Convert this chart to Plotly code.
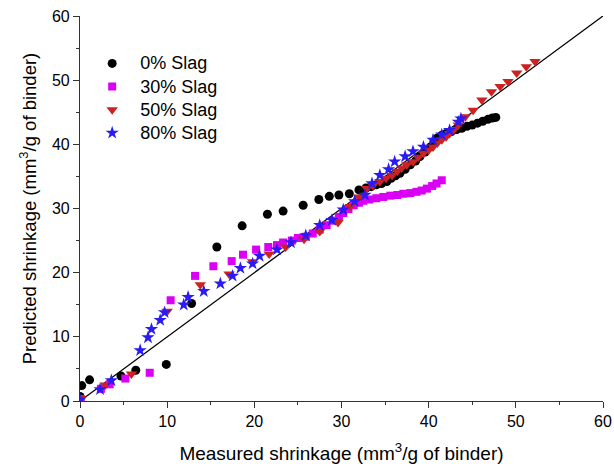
import plotly.graph_objects as go

# 0% Slag
x0 = [0.0, 0.2, 1.1, 4.7, 6.4, 9.9, 12.8, 15.7, 18.6, 21.5, 23.3, 25.6, 27.4, 28.6, 29.7, 30.9,
      32.0, 32.8, 33.4, 34.0, 34.6, 35.2, 35.7, 36.2, 36.7, 37.3, 37.9, 38.5, 39.0, 39.6, 40.2,
      40.6, 41.0, 41.5, 42.0, 42.6, 43.2, 43.8, 44.4, 45.0, 45.6, 46.2, 46.8, 47.3, 47.7]
y0 = [0.7, 2.4, 3.3, 3.9, 4.8, 5.7, 15.2, 24.0, 27.3, 29.1, 29.6, 30.5, 31.4, 31.9, 32.1, 32.3,
      32.9, 33.2, 33.4, 33.7, 33.9, 34.2, 34.7, 35.1, 35.5, 36.1, 36.8, 37.4, 38.1, 38.8, 39.6,
      40.4, 41.0, 41.4, 41.7, 42.0, 42.3, 42.5, 42.8, 43.0, 43.3, 43.6, 43.9, 44.1, 44.2]

# 30% Slag
x30 = [0.1, 2.4, 3.4, 5.2, 8.0, 10.4, 13.2, 15.3, 17.4, 18.7, 20.2, 21.6, 22.6, 23.3, 24.3, 25.0,
       25.9, 26.7, 27.5, 28.3, 29.1, 29.7, 30.2, 30.8, 31.4, 32.0, 32.5, 33.2, 34.0, 34.8, 35.6,
       36.4, 37.1, 37.9, 38.6, 39.2, 39.8, 40.4, 40.9, 41.5]
y30 = [0.3, 1.9, 2.6, 3.5, 4.4, 15.7, 19.5, 21.0, 21.8, 22.8, 23.6, 24.0, 24.3, 24.7, 25.0, 25.4,
       25.6, 26.1, 26.7, 27.4, 28.1, 28.7, 29.3, 29.9, 30.5, 30.9, 31.2, 31.4, 31.6, 31.8, 32.0,
       32.1, 32.3, 32.4, 32.6, 32.8, 33.1, 33.5, 33.9, 34.4]

# 50% Slag
x50 = [0.1, 2.9, 5.9, 10.0, 13.8, 17.1, 19.8, 21.7, 23.6, 25.7, 27.5, 29.6, 31.0, 32.0, 32.9,
       33.6, 34.4, 35.1, 35.8, 36.4, 36.9, 37.5, 38.2, 38.8, 39.4, 40.0, 40.5, 41.0, 41.5, 42.0,
       42.4, 42.9, 43.4, 44.2, 45.1, 46.1, 47.2, 48.2, 49.1, 50.1, 51.2, 52.2]
y50 = [0.4, 2.5, 4.2, 14.0, 18.1, 19.8, 21.7, 22.9, 24.0, 25.2, 26.4, 27.8, 30.3, 31.8, 33.1,
       33.6, 34.2, 34.7, 35.2, 35.8, 36.3, 36.8, 37.3, 38.0, 38.6, 39.1, 39.6, 40.2, 40.7, 41.2,
       41.7, 42.3, 43.0, 44.3, 45.3, 46.9, 48.2, 49.0, 49.8, 51.1, 52.1, 52.9]

# 80% Slag
x80 = [0.0, 2.3, 3.6, 6.9, 7.8, 8.2, 9.2, 9.7, 11.9, 12.4, 14.2, 16.1, 17.5, 18.4, 19.8, 20.6,
       22.6, 24.2, 25.9, 27.5, 28.9, 30.2, 31.5, 32.7, 33.5, 34.4, 35.4, 36.1, 37.3, 38.2, 39.4,
       40.5, 41.5, 42.4, 43.4, 43.7]
y80 = [0.2, 1.8, 3.2, 7.9, 9.9, 11.2, 12.6, 13.8, 15.0, 16.2, 17.1, 18.3, 19.5, 20.7, 21.4, 22.6,
       23.6, 24.7, 25.8, 27.4, 28.2, 29.8, 31.1, 32.1, 33.9, 35.2, 36.1, 37.3, 38.1, 38.9, 39.6,
       40.7, 41.5, 42.2, 43.5, 44.0]

names = ["0% Slag", "30% Slag", "50% Slag", "80% Slag"]
line_x = [0, 60]
line_y = [0, 60]


def lg(name):
    return "<span style='font-size:18px'>" + name + "</span>"


fig = go.Figure()
fig.add_trace(go.Scatter(x=line_x, y=line_y, mode="lines", line=dict(color="black", width=1.3),
                         showlegend=False, hoverinfo="skip"))
fig.add_trace(go.Scatter(x=x0, y=y0, mode="markers", name=lg(names[0]),
                         marker=dict(symbol="circle", size=9, color="black", line=dict(width=0))))
fig.add_trace(go.Scatter(x=x30, y=y30, mode="markers", name=lg(names[1]),
                         marker=dict(symbol="square", size=8, color="#D900F5", line=dict(width=0))))
fig.add_trace(go.Scatter(x=x50, y=y50, mode="markers", name=lg(names[2]),
                         marker=dict(symbol="triangle-down", size=10, color="#CC2222", line=dict(width=0))))
fig.add_trace(go.Scatter(x=x80, y=y80, mode="markers", name=lg(names[3]),
                         marker=dict(symbol="star", size=10, color="#2A1AF5", line=dict(width=0))))

axis_common = dict(
    range=[0, 60], dtick=10, tick0=0, showgrid=False, zeroline=False, automargin=False,
    showline=True, linecolor="#333333", linewidth=1.2,
    ticks="outside", ticklen=6, tickwidth=1.2, tickcolor="#333333",
    minor=dict(ticks="outside", ticklen=3, tickwidth=1, tickcolor="#333333", dtick=5, tick0=0),
    tickfont=dict(family="Liberation Sans, Arial", size=16, color="black"),
)

fig.update_layout(
    width=614, height=464,
    margin=dict(l=80, r=11, t=16, b=63, autoexpand=False),
    plot_bgcolor="white", paper_bgcolor="white",
    font=dict(family="Liberation Sans, Arial", color="black"),
    xaxis=dict(axis_common, title=dict(text="Measured shrinkage (mm<sup>3</sup>/g of binder)",
                                       font=dict(size=19), standoff=17)),
    yaxis=dict(axis_common, title=dict(text="Predicted shrinkage (mm<sup>3</sup>/g of binder)",
                                       font=dict(size=18.5), standoff=10)),
    legend=dict(x=0.008, y=0.92, xanchor="left", yanchor="top", bgcolor="rgba(0,0,0,0)",
                font=dict(size=15.5), tracegroupgap=0, itemwidth=46),
)

fig.write_html("out.html")
